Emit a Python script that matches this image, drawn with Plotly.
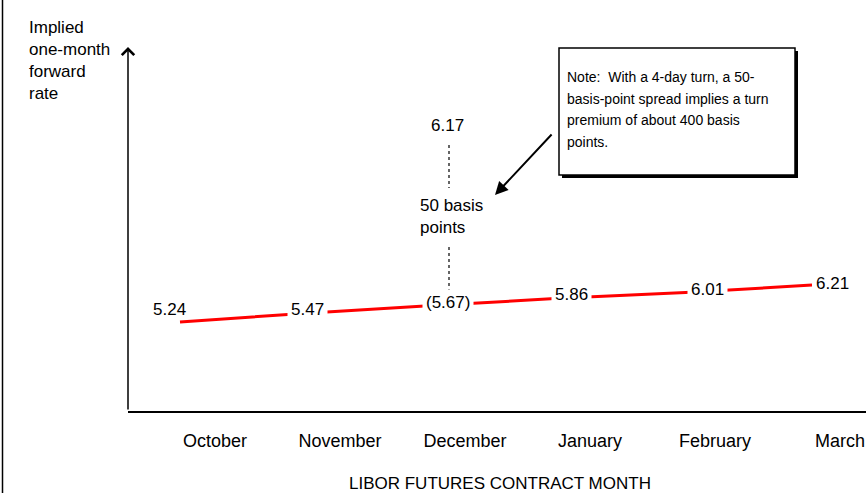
import plotly.graph_objects as go

# ---- data ----
months = ["October", "November", "December", "January", "February", "March"]
forward_rates = [5.24, 5.47, 5.67, 5.86, 6.01, 6.21]
rate_labels = ["5.24", "5.47", "(5.67)", "5.86", "6.01", "6.21"]
turn_rate = ["6.17"]
spread_text = ["50 basis<br>points"]
note_lines = [
    "Note:  With a 4-day turn, a 50-",
    "basis-point spread implies a turn",
    "premium of about 400 basis",
    "points.",
]
y_title = "Implied<br>one-month<br>forward<br>rate"
x_title = "LIBOR FUTURES CONTRACT MONTH"

# ---- layout geometry (pixels) ----
W, H = 866, 493
L, R, T, B = 128, 0, 47, 82
PW, PH = W - L - R, H - T - B


def px(x):
    return (x - L) / PW


def py(y):
    return (H - B - y) / PH


FONT = "Liberation Sans, Arial, sans-serif"

fig = go.Figure()
# month axis carrier (no visible marks)
fig.add_trace(go.Scatter(
    x=list(range(len(months))), y=[None] * len(months), xaxis="x", yaxis="y",
    mode="lines", hoverinfo="skip", showlegend=False,
))
fig.add_trace(go.Scatter(
    x=list(range(len(forward_rates))), y=forward_rates, xaxis="x2", yaxis="y",
    mode="lines", line=dict(color="#ff0000", width=3), hoverinfo="skip",
    showlegend=False,
))

annotations = []
label_dx = [-11, 1, 15, 12, 22, 20]
label_dy = [12, 4, 3, 4, 3, 1]
label_bg = ["rgba(0,0,0,0)", "white", "white", "white", "white", "white"]
for i, (v, t) in enumerate(zip(forward_rates, rate_labels)):
    annotations.append(dict(
        x=i, y=v, xref="x2", yref="y", text=t, showarrow=False,
        xshift=label_dx[i], yshift=label_dy[i], bgcolor=label_bg[i], borderpad=3,
        font=dict(family=FONT, size=17, color="black"),
    ))

# y axis with arrow head
annotations.append(dict(
    x=0, y=1, xref="paper", yref="paper", ax=0, ay=PH, axref="pixel", ayref="pixel",
    text="", showarrow=True, arrowhead=4, arrowsize=1.6, arrowwidth=1.5,
    arrowcolor="black", standoff=0, startstandoff=0,
))
# y title
annotations.append(dict(
    x=px(27), y=py(60.5), xref="paper", yref="paper", text=y_title,
    showarrow=False, xanchor="left", yanchor="middle", align="left",
    font=dict(family=FONT, size=17, color="black"),
))
# x title
annotations.append(dict(
    x=px(500), y=py(483), xref="paper", yref="paper", text=x_title,
    showarrow=False, xanchor="center", yanchor="middle",
    font=dict(family=FONT, size=17, color="black"),
))
# 6.17 and spread text
annotations.append(dict(
    x=px(447), y=py(125), xref="paper", yref="paper", text=turn_rate[0],
    showarrow=False, xanchor="center", yanchor="middle",
    font=dict(family=FONT, size=17, color="black"),
))
annotations.append(dict(
    x=px(418), y=py(216), xref="paper", yref="paper", text=spread_text[0],
    showarrow=False, xanchor="left", yanchor="middle", align="left",
    font=dict(family=FONT, size=17, color="black"),
))
# note lines
note_y = [77, 99, 120, 142]
for t, yy in zip(note_lines, note_y):
    annotations.append(dict(
        x=px(565), y=py(yy), xref="paper", yref="paper", text=t,
        showarrow=False, xanchor="left", yanchor="middle", align="left",
        font=dict(family=FONT, size=14, color="black"),
    ))
# note arrow
annotations.append(dict(
    x=px(495), y=py(195), xref="paper", yref="paper", ax=58, ay=-62,
    text="", showarrow=True, arrowhead=2, arrowsize=1.3, arrowwidth=2,
    arrowcolor="black", standoff=0,
))

shapes = [
    # left frame line
    dict(type="line", xref="paper", yref="paper", x0=px(2.5), x1=px(2.5),
         y0=py(0), y1=py(H), line=dict(color="black", width=1.5)),
    # note shadow
    dict(type="rect", xref="paper", yref="paper", x0=px(562), x1=px(798),
         y0=py(51), y1=py(178), fillcolor="black", line=dict(width=0)),
    # note box
    dict(type="rect", xref="paper", yref="paper", x0=px(559), x1=px(795),
         y0=py(48), y1=py(175), fillcolor="white",
         line=dict(color="black", width=1.5)),
    # dotted spread lines
    dict(type="line", xref="paper", yref="paper", x0=px(449), x1=px(449),
         y0=py(145), y1=py(188), line=dict(color="black", width=1.2, dash="dot")),
    dict(type="line", xref="paper", yref="paper", x0=px(449), x1=px(449),
         y0=py(247), y1=py(298), line=dict(color="black", width=1.2, dash="dot")),
]

fig.update_layout(
    width=W, height=H,
    margin=dict(l=L, r=R, t=T, b=B, pad=0),
    paper_bgcolor="white", plot_bgcolor="white",
    showlegend=False,
    xaxis=dict(
        range=[-0.696, 5.208], tickvals=list(range(len(months))), ticktext=months,
        showline=True, linecolor="black", linewidth=2, showgrid=False,
        zeroline=False, ticks="", tickfont=dict(family=FONT, size=18, color="black"),
        ticklabelstandoff=12, fixedrange=True,
    ),
    xaxis2=dict(
        range=[-0.4114, 5.4272], overlaying="x", visible=False, fixedrange=True,
    ),
    yaxis=dict(range=[2.906, 12.45], visible=False, fixedrange=True),
    annotations=annotations,
    shapes=shapes,
)

fig.write_html(
    "out.html",
    config={"displayModeBar": False},
    post_script="document.body.style.margin='0px';document.body.style.overflow='hidden';",
)
